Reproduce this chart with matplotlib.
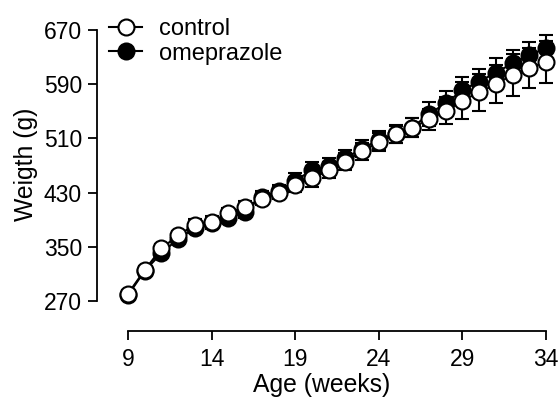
import matplotlib
matplotlib.use("Agg")
import matplotlib.pyplot as plt

# body weight over time
weeks = list(range(9, 35))
control = [281, 316, 348, 367, 383, 387, 400, 409, 421, 430, 442, 451, 463, 476,
           491, 505, 516, 526, 538, 551, 566, 578, 590, 604, 614, 623]
control_sem = [6, 6, 7, 7, 8, 8, 8, 9, 9, 10, 11, 12, 12, 12,
               13, 13, 13, 14, 16, 20, 28, 27, 28, 31, 30, 31]
omeprazole = [279, 315, 341, 362, 378, 385, 393, 402, 424, 432, 448, 463, 469, 481,
              495, 508, 517, 526, 546, 562, 581, 594, 607, 621, 633, 643]
omeprazole_sem = [6, 6, 7, 7, 8, 8, 8, 9, 9, 10, 11, 12, 12, 12,
                  13, 13, 13, 14, 18, 18, 20, 19, 21, 19, 20, 19]

plt.rcParams['font.family'] = ['Liberation Sans', 'DejaVu Sans']

fig = plt.figure(figsize=(5.59, 3.97), dpi=100)
ax = fig.add_axes([97.3 / 559, 1 - 331 / 397, (546 - 97.3) / 559, (331 - 30) / 397])

ms = 11.5
ew = 1.5

# error bars first, markers on top (white over black)
ax.errorbar(weeks, omeprazole, yerr=omeprazole_sem, fmt='none', ecolor='black',
            elinewidth=1.5, capsize=4.8, capthick=1.5, zorder=2, clip_on=False)
ax.errorbar(weeks, control, yerr=control_sem, fmt='none', ecolor='black',
            elinewidth=1.5, capsize=4.8, capthick=1.5, zorder=2, clip_on=False)
ax.plot(weeks, omeprazole, '-o', color='black', mfc='black', mec='black',
        ms=ms, mew=ew, lw=1.5, zorder=3, clip_on=False, label='omeprazole')
ax.plot(weeks, control, '-o', color='black', mfc='white', mec='black',
        ms=ms, mew=ew, lw=1.5, zorder=4, clip_on=False, label='control')

ax.set_xlim(7.16, 34)
ax.set_ylim(226, 670)
ax.spines['top'].set_visible(False)
ax.spines['right'].set_visible(False)
ax.spines['left'].set_bounds(270, 670)
ax.spines['bottom'].set_bounds(9, 34)
for s in ('left', 'bottom'):
    ax.spines[s].set_linewidth(1.3)

ax.set_xticks([9, 14, 19, 24, 29, 34])
ax.set_yticks([270, 350, 430, 510, 590, 670])
ax.tick_params(direction='out', length=6.5, width=1.3, labelsize=16.5)
ax.tick_params(axis='x', pad=5.5)
ax.tick_params(axis='y', pad=4.5)

ax.set_xlabel('Age (weeks)', fontsize=17.8, labelpad=2)
ax.set_ylabel('Weigth (g)', fontsize=17.8)
ax.yaxis.set_label_coords(-0.132, 0.555)

handles, labels = ax.get_legend_handles_labels()
leg = ax.legend(handles[::-1], labels[::-1], loc='upper left',
                bbox_to_anchor=(0.0055, 1.07), frameon=False, fontsize=17,
                handlelength=1.4, handletextpad=0.7, labelspacing=0.1,
                borderaxespad=0)

fig.savefig('out.png', dpi=100)
